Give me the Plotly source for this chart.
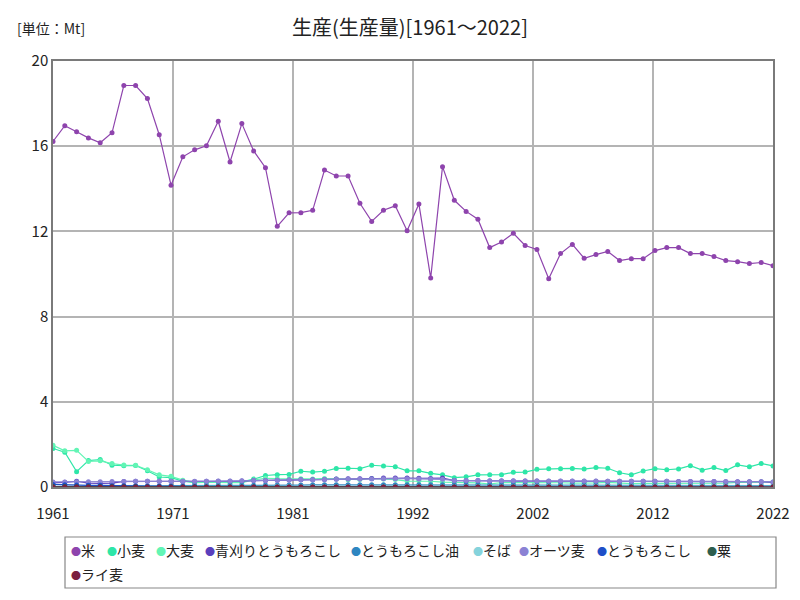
import plotly.graph_objects as go

years = list(range(1961, 2023))

rice = [16.22, 16.96, 16.68, 16.39, 16.16, 16.63, 18.85, 18.85, 18.24, 16.54,
        14.17, 15.50, 15.83, 16.02, 17.17, 15.26, 17.06, 15.78, 14.99, 12.24,
        12.87, 12.88, 12.99, 14.88, 14.60, 14.60, 13.32, 12.47, 12.99, 13.20,
        12.03, 13.29, 9.81, 15.04, 13.46, 12.94, 12.57, 11.24, 11.50, 11.91,
        11.34, 11.15, 9.78, 10.96, 11.39, 10.74, 10.91, 11.06, 10.63, 10.72,
        10.72, 11.10, 11.24, 11.24, 10.96, 10.96, 10.82, 10.63, 10.58, 10.49,
        10.54, 10.39]

wheat = [1.81, 1.63, 0.72, 1.24, 1.29, 1.02, 1.00, 1.01, 0.76, 0.47,
         0.44, 0.28, 0.20, 0.23, 0.24, 0.22, 0.24, 0.37, 0.54, 0.58,
         0.59, 0.74, 0.70, 0.74, 0.87, 0.88, 0.86, 1.02, 0.99, 0.95,
         0.76, 0.76, 0.64, 0.57, 0.44, 0.48, 0.57, 0.57, 0.58, 0.69,
         0.70, 0.83, 0.86, 0.86, 0.87, 0.84, 0.91, 0.88, 0.67, 0.57,
         0.75, 0.86, 0.81, 0.85, 1.00, 0.79, 0.91, 0.77, 1.04, 0.95,
         1.10, 0.99]

barley = [1.96, 1.70, 1.72, 1.20, 1.23, 1.10, 1.03, 1.02, 0.81, 0.57,
          0.50, 0.32, 0.22, 0.23, 0.22, 0.21, 0.21, 0.33, 0.41, 0.39,
          0.38, 0.39, 0.38, 0.40, 0.38, 0.34, 0.35, 0.40, 0.37, 0.35,
          0.28, 0.29, 0.27, 0.23, 0.22, 0.23, 0.19, 0.14, 0.21, 0.21,
          0.21, 0.22, 0.20, 0.20, 0.18, 0.17, 0.19, 0.22, 0.18, 0.16,
          0.17, 0.17, 0.18, 0.17, 0.18, 0.17, 0.19, 0.18, 0.22, 0.22,
          0.24, 0.23]

green_maize = [0.21, 0.22, 0.27, 0.18, 0.17, 0.18, 0.26, 0.27, 0.27, 0.27,
               0.27, 0.26, 0.26, 0.27, 0.27, 0.27, 0.28, 0.30, 0.31, 0.32,
               0.33, 0.34, 0.34, 0.35, 0.37, 0.39, 0.39, 0.40, 0.42, 0.42,
               0.42, 0.41, 0.40, 0.42, 0.30, 0.29, 0.30, 0.28, 0.28, 0.28,
               0.28, 0.28, 0.27, 0.27, 0.27, 0.27, 0.27, 0.27, 0.27, 0.27,
               0.27, 0.27, 0.27, 0.26, 0.26, 0.25, 0.26, 0.25, 0.25, 0.25,
               0.25, 0.22]

corn_oil = [0.02, 0.02, 0.03, 0.03, 0.03, 0.04, 0.04, 0.05, 0.05, 0.05,
            0.06, 0.06, 0.07, 0.07, 0.07, 0.08, 0.08, 0.08, 0.09, 0.09,
            0.09, 0.09, 0.10, 0.10, 0.10, 0.10, 0.10, 0.10, 0.10, 0.10,
            0.10, 0.10, 0.10, 0.10, 0.10, 0.10, 0.10, 0.10, 0.10, 0.10,
            0.10, 0.10, 0.09, 0.09, 0.09, 0.09, 0.09, 0.09, 0.09, 0.09,
            0.08, 0.08, 0.08, 0.08, 0.08, 0.08, 0.08, 0.07, 0.07, 0.07,
            0.07, 0.06]

buckwheat = [0.03, 0.03, 0.03, 0.03, 0.03, 0.03, 0.02, 0.02, 0.02, 0.02,
             0.02, 0.02, 0.02, 0.02, 0.02, 0.02, 0.02, 0.02, 0.03, 0.03,
             0.03, 0.02, 0.02, 0.02, 0.02, 0.02, 0.02, 0.02, 0.02, 0.02,
             0.02, 0.02, 0.02, 0.02, 0.02, 0.02, 0.02, 0.02, 0.02, 0.02,
             0.03, 0.03, 0.03, 0.02, 0.03, 0.03, 0.03, 0.03, 0.02, 0.03,
             0.03, 0.04, 0.03, 0.03, 0.03, 0.03, 0.03, 0.03, 0.04, 0.04,
             0.04, 0.04]

oats = [0.24, 0.24, 0.25, 0.25, 0.25, 0.26, 0.26, 0.27, 0.27, 0.27,
        0.27, 0.27, 0.27, 0.27, 0.28, 0.28, 0.29, 0.30, 0.31, 0.32,
        0.33, 0.34, 0.34, 0.35, 0.36, 0.37, 0.38, 0.38, 0.39, 0.39,
        0.39, 0.38, 0.37, 0.36, 0.31, 0.30, 0.30, 0.29, 0.29, 0.29,
        0.28, 0.28, 0.28, 0.28, 0.28, 0.28, 0.28, 0.27, 0.27, 0.27,
        0.27, 0.27, 0.27, 0.26, 0.26, 0.26, 0.26, 0.26, 0.25, 0.25,
        0.25, 0.24]

maize = [0.12, 0.10, 0.09, 0.08, 0.08, 0.06, 0.06, 0.05, 0.04, 0.03,
         0.03, 0.02, 0.02, 0.01, 0.01, 0.01, 0.01, 0.01, 0.01, 0.00,
         0.00, 0.00, 0.00, 0.00, 0.00, 0.00, 0.00, 0.00, 0.00, 0.00,
         0.00, 0.00, 0.00, 0.00, 0.00, 0.00, 0.00, 0.00, 0.00, 0.00,
         0.00, 0.00, 0.00, 0.00, 0.00, 0.00, 0.00, 0.00, 0.00, 0.00,
         0.00, 0.00, 0.00, 0.00, 0.00, 0.00, 0.00, 0.00, 0.00, 0.00,
         0.00, 0.00]

millet = [0.02, 0.02, 0.01, 0.01, 0.01, 0.01, 0.01, 0.01, 0.00, 0.00] + [0.0] * 52
rye = [0.0] * 62

series_names = ["米", "小麦", "大麦", "青刈りとうもろこし", "とうもろこし油",
                "そば", "オーツ麦", "とうもろこし", "粟", "ライ麦"]
series_values = [rice, wheat, barley, green_maize, corn_oil,
                 buckwheat, oats, maize, millet, rye]
series_colors = ["#8e44ad", "#2ee6a8", "#62f5b5", "#5a3fbd", "#2e86c1",
                 "#85d3dc", "#8b82d4", "#1f4fc8", "#2d5e4e", "#7b2040"]

x_tick_labels = ["1961", "1971", "1981", "1992", "2002", "2012", "2022"]
x_tick_vals = [1961 + 61 * k / 6 for k in range(7)]

font_family = "Noto Sans CJK JP"

# the page body adds an 8px offset; screen-pixel targets are converted below
OFF = 8
W, H = 800, 600
# plot area on screen: x 53..773, y 61..487
L = 53 - OFF
T = 61 - OFF
R = W - (773 - OFF)
B = H - (487 - OFF)
PW, PH = W - L - R, H - T - B


def px_x(p):
    return (p - OFF - L) / PW


def px_y(p):
    return (H - B - (p - OFF)) / PH


fig = go.Figure()
for name, vals, col in zip(series_names, series_values, series_colors):
    fig.add_trace(go.Scatter(
        x=years, y=vals, name=name, mode="lines+markers",
        line=dict(color=col, width=1.2),
        marker=dict(color=col, size=5),
        showlegend=False,
    ))

# legend built from annotations (compact layout like the reference)
legend_pos = [(69, 550), (105, 550), (154, 550), (203, 550), (349, 550),
              (471, 550), (517, 550), (595, 550), (705, 550), (69, 574)]
annotations = []
for (lx, ly), name, col in zip(legend_pos, series_names, series_colors):
    annotations.append(dict(
        text=f'<span style="color:{col};font-size:10px">●</span>{name}',
        xref="paper", yref="paper", x=px_x(lx), y=px_y(ly),
        xanchor="left", yanchor="middle", showarrow=False,
        font=dict(size=14, color="#222")))

annotations.append(dict(text="[単位：Mt]", xref="paper", yref="paper",
                        x=px_x(15), y=px_y(28), xanchor="left", yanchor="middle",
                        showarrow=False, font=dict(size=14, color="#222")))

fig.update_layout(
    width=W, height=H,
    margin=dict(l=L, r=R, t=T, b=B, autoexpand=False),
    paper_bgcolor="white", plot_bgcolor="white",
    font=dict(family=font_family, size=13, color="#222"),
    title=dict(text="生産(生産量)[1961～2022]",
               xref="container", x=(410 - OFF) / W, xanchor="center",
               yref="container", y=1 - (28 - OFF) / H, yanchor="middle",
               font=dict(family=font_family, size=20, color="#222")),
    showlegend=False,
    annotations=annotations,
    shapes=[dict(type="rect", xref="paper", yref="paper",
                 x0=px_x(65), x1=px_x(776), y0=px_y(537), y1=px_y(588),
                 line=dict(color="#888", width=1.2))],
)
fig.update_xaxes(range=[1961, 2022], tickvals=x_tick_vals, ticktext=x_tick_labels,
                 showgrid=True, gridcolor="#b4b4b4", gridwidth=1.5,
                 showline=True, linecolor="#7a7a7a", linewidth=1.5, mirror=True,
                 ticks="", ticklabelstandoff=12, tickfont=dict(size=15),
                 zeroline=False, automargin=False)
fig.update_yaxes(range=[0, 20], dtick=4, showgrid=True, gridcolor="#b4b4b4", gridwidth=1.5,
                 showline=True, linecolor="#7a7a7a", linewidth=1.5, mirror=True,
                 ticks="", tickfont=dict(size=15), zeroline=False, automargin=False)

fig.write_html("out.html")
